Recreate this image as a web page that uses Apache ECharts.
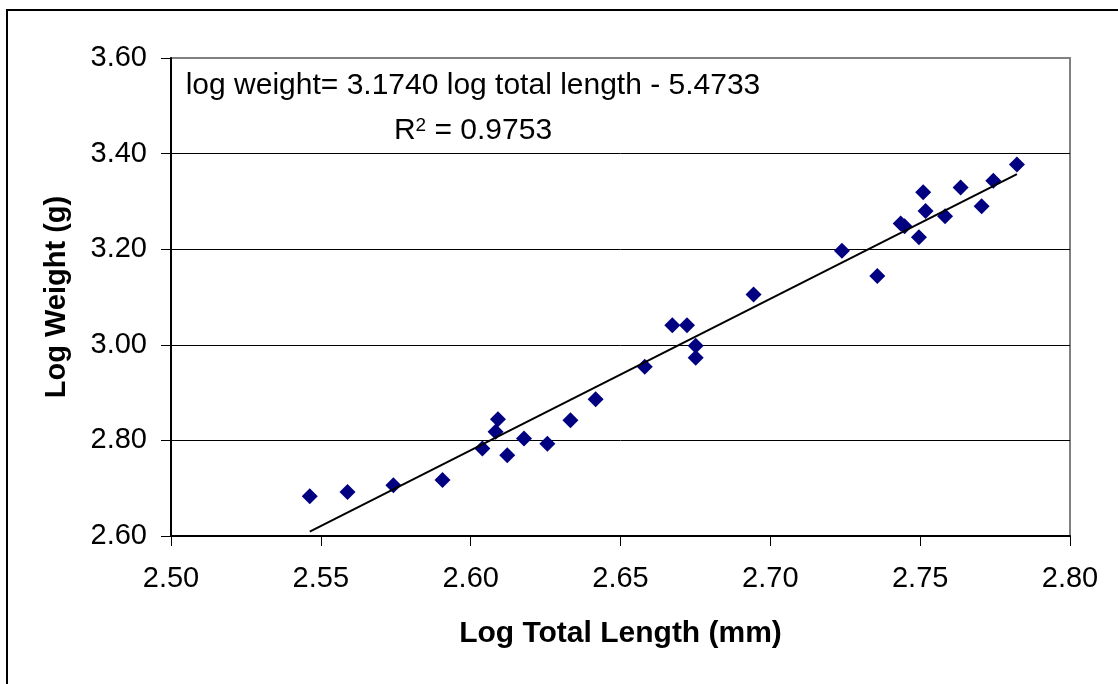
<!DOCTYPE html>
<html>
<head>
<meta charset="utf-8">
<script src="https://cdn.jsdelivr.net/npm/echarts@6/dist/echarts.min.js"></script>
<style>
  html, body { margin: 0; padding: 0; background: #fff; }
  #chart { width: 1118px; height: 684px; }
</style>
</head>
<body>
<div id="chart"></div>
<script>
const FONT = '"Liberation Sans", Arial, sans-serif';

// log total length (mm) / log weight (g)
const logLength = [
  2.5463, 2.5589, 2.5742, 2.5906, 2.6039, 2.6091, 2.6083, 2.6122, 2.6178,
  2.6256, 2.6333, 2.6417, 2.6581, 2.6673, 2.6722, 2.6751, 2.6751, 2.6944,
  2.7239, 2.7357, 2.7435, 2.7448, 2.7496, 2.7510, 2.7518, 2.7583, 2.7635,
  2.7705, 2.7744, 2.7823
];
const logWeight = [
  2.683, 2.692, 2.706, 2.717, 2.783, 2.844, 2.818, 2.769, 2.804,
  2.793, 2.842, 2.886, 2.954, 3.041, 3.041, 2.998, 2.973, 3.105,
  3.197, 3.144, 3.254, 3.248, 3.225, 3.319, 3.280, 3.269, 3.329,
  3.290, 3.343, 3.377
];

// fitted line end points
const trendX = [2.5463, 2.7823];
const trendY = [2.609, 3.357];

const equationText = 'log weight= 3.1740 log total length - 5.4733';
const r2Text = ' = 0.9753';

const chart = echarts.init(document.getElementById('chart'));

chart.setOption({
  backgroundColor: '#fff',
  animation: false,
  textStyle: { fontFamily: FONT },
  grid: {
    left: 171, right: 48, top: 58, bottom: 148,
    show: true,
    borderColor: '#808080',
    borderWidth: 2,
    backgroundColor: '#fff'
  },
  xAxis: {
    type: 'value',
    min: 2.5, max: 2.8, interval: 0.05,
    name: 'Log Total Length (mm)',
    nameLocation: 'middle',
    nameGap: 83,
    nameTextStyle: { fontSize: 30, fontWeight: 'bold', color: '#000', fontFamily: FONT },
    axisLine: { lineStyle: { color: '#000', width: 2 } },
    axisTick: { show: true, length: 10, lineStyle: { color: '#000', width: 1 } },
    axisLabel: {
      margin: 28, fontSize: 29, color: '#000', fontFamily: FONT,
      formatter: v => v.toFixed(2)
    },
    splitLine: { show: false }
  },
  yAxis: {
    type: 'value',
    min: 2.6, max: 3.6, interval: 0.2,
    name: 'Log Weight (g)',
    nameLocation: 'middle',
    nameGap: 100,
    nameTextStyle: { fontSize: 29, fontWeight: 'bold', color: '#000', fontFamily: FONT },
    axisLine: { lineStyle: { color: '#000', width: 2 } },
    axisTick: { show: true, length: 10, lineStyle: { color: '#000', width: 1 } },
    axisLabel: {
      margin: 24, fontSize: 29, color: '#000', fontFamily: FONT,
      formatter: v => v.toFixed(2)
    },
    splitLine: {
      show: true,
      showMinLine: false,
      showMaxLine: false,
      lineStyle: { color: '#000', width: 1 }
    }
  },
  graphic: [
    {
      type: 'rect',
      silent: true,
      z: -1,
      shape: { x: 7, y: 10, width: 1200, height: 1000 },
      style: { fill: 'none', stroke: '#000', lineWidth: 2 }
    },
    {
      type: 'text',
      x: 473, y: 86,
      style: {
        text: equationText,
        font: '30px ' + FONT,
        fill: '#000',
        align: 'center',
        verticalAlign: 'middle'
      }
    },
    {
      type: 'text',
      x: 473, y: 131,
      style: {
        text: '{a|R}{s|2}{a|' + r2Text + '}',
        align: 'center',
        verticalAlign: 'middle',
        rich: {
          a: { fontSize: 30, fontFamily: FONT, color: '#000', verticalAlign: 'bottom' },
          s: { fontSize: 19, fontFamily: FONT, color: '#000', verticalAlign: 'top' }
        }
      }
    }
  ],
  series: [
    {
      type: 'line',
      data: trendX.map((x, i) => [x, trendY[i]]),
      symbol: 'none',
      lineStyle: { color: '#000', width: 2 },
      z: 3
    },
    {
      type: 'scatter',
      data: logLength.map((x, i) => [x, logWeight[i]]),
      symbol: 'diamond',
      symbolSize: 16,
      itemStyle: { color: '#000080', opacity: 1 },
      z: 2
    }
  ]
});
</script>
</body>
</html>
